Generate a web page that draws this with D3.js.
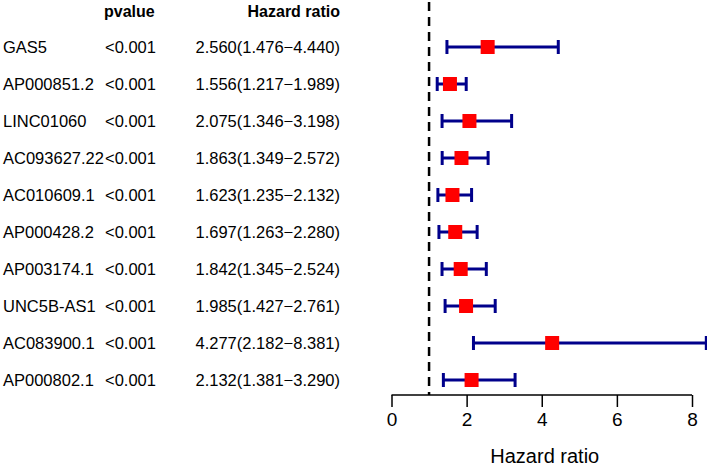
<!DOCTYPE html>
<html>
<head>
<meta charset="utf-8">
<title>Forest plot</title>
<script src="https://d3js.org/d3.v7.min.js"></script>
<style>
  body { margin: 0; background: #fff; }
  text { font-family: "Liberation Sans", Arial, sans-serif; }
</style>
</head>
<body>
<div id="main"></div>
<script>
  var screenWidth  = 711;
  var screenHeight = 466;

  // data
  var genes  = ["GAS5", "AP000851.2", "LINC01060", "AC093627.22", "AC010609.1",
                "AP000428.2", "AP003174.1", "UNC5B-AS1", "AC083900.1", "AP000802.1"];
  var pvals  = ["<0.001", "<0.001", "<0.001", "<0.001", "<0.001",
                "<0.001", "<0.001", "<0.001", "<0.001", "<0.001"];
  var hr     = [2.560, 1.556, 2.075, 1.863, 1.623, 1.697, 1.842, 1.985, 4.277, 2.132];
  var hrLow  = [1.476, 1.217, 1.346, 1.349, 1.235, 1.263, 1.345, 1.427, 2.182, 1.381];
  var hrHigh = [4.440, 1.989, 3.198, 2.572, 2.132, 2.280, 2.524, 2.761, 8.381, 3.290];
  var xTicks = [0, 2, 4, 6, 8];

  var fmt = d3.format(".3f");
  var rows = genes.map(function(g, i) {
    return { gene: g, p: pvals[i], hr: hr[i], lo: hrLow[i], hi: hrHigh[i] };
  });

  var xScale = d3.scaleLinear().domain([0, 8]).range([391.5, 692]);
  var yScale = d3.scalePoint().domain(genes).range([47, 380]);

  var svg = d3.select("#main").append("svg")
      .attr("width", screenWidth)
      .attr("height", screenHeight);

  // text table
  var fs = 16.5;
  svg.append("text").attr("x", 104).attr("y", 11).attr("dy", "0.35em")
      .attr("font-size", fs - 0.5).attr("font-weight", "bold").text("pvalue");
  svg.append("text").attr("x", 340).attr("y", 11).attr("dy", "0.35em")
      .attr("text-anchor", "end").attr("font-size", fs - 0.5).attr("font-weight", "bold").text("Hazard ratio");

  var tr = svg.append("g").selectAll("g").data(rows).enter().append("g")
      .attr("transform", d => "translate(0," + yScale(d.gene) + ")");
  tr.append("text").attr("x", 3).attr("dy", "0.35em").attr("font-size", fs).text(d => d.gene);
  tr.append("text").attr("x", 105).attr("dy", "0.35em").attr("font-size", fs).text(d => d.p);
  tr.append("text").attr("x", 340).attr("dy", "0.35em").attr("text-anchor", "end")
      .attr("font-size", fs).text(d => fmt(d.hr) + "(" + fmt(d.lo) + "\u2212" + fmt(d.hi) + ")");

  // plot
  svg.append("clipPath").attr("id", "clip").append("rect")
      .attr("x", 370).attr("y", 0).attr("width", 337).attr("height", 400);

  svg.append("line")
      .attr("x1", xScale(1)).attr("x2", xScale(1))
      .attr("y1", 2).attr("y2", 395)
      .attr("stroke", "black").attr("stroke-width", 2.5)
      .attr("stroke-dasharray", "9,6");

  var bars = svg.append("g").attr("clip-path", "url(#clip)")
      .selectAll("g").data(rows).enter().append("g")
      .attr("transform", d => "translate(0," + yScale(d.gene) + ")");
  bars.append("line")
      .attr("x1", d => xScale(d.lo)).attr("x2", d => xScale(d.hi))
      .attr("stroke", "#00008B").attr("stroke-width", 3);
  bars.append("line")
      .attr("x1", d => xScale(d.lo)).attr("x2", d => xScale(d.lo))
      .attr("y1", -7).attr("y2", 7)
      .attr("stroke", "#00008B").attr("stroke-width", 3);
  bars.append("line")
      .attr("x1", d => xScale(d.hi)).attr("x2", d => xScale(d.hi))
      .attr("y1", -7).attr("y2", 7)
      .attr("stroke", "#00008B").attr("stroke-width", 3);
  bars.append("rect")
      .attr("x", d => xScale(d.hr) - 7).attr("y", -7)
      .attr("width", 14).attr("height", 14)
      .attr("fill", "#FF0000");

  // axis
  var xAxis = d3.axisBottom(xScale).tickValues(xTicks).tickSize(12).tickPadding(6);
  var ax = svg.append("g").attr("transform", "translate(0,395)").call(xAxis);
  ax.select(".domain").attr("stroke-width", 1.5).attr("d", "M" + xScale(0) + ",0H" + xScale(8));
  ax.selectAll(".tick line").attr("stroke-width", 1.5);
  ax.selectAll(".tick text").attr("font-size", 19).attr("font-family", "Liberation Sans, Arial, sans-serif");

  svg.append("text").attr("x", xScale(4) + 3).attr("y", 456).attr("dy", "0.35em")
      .attr("text-anchor", "middle").attr("font-size", 20).text("Hazard ratio");
</script>
</body>
</html>
